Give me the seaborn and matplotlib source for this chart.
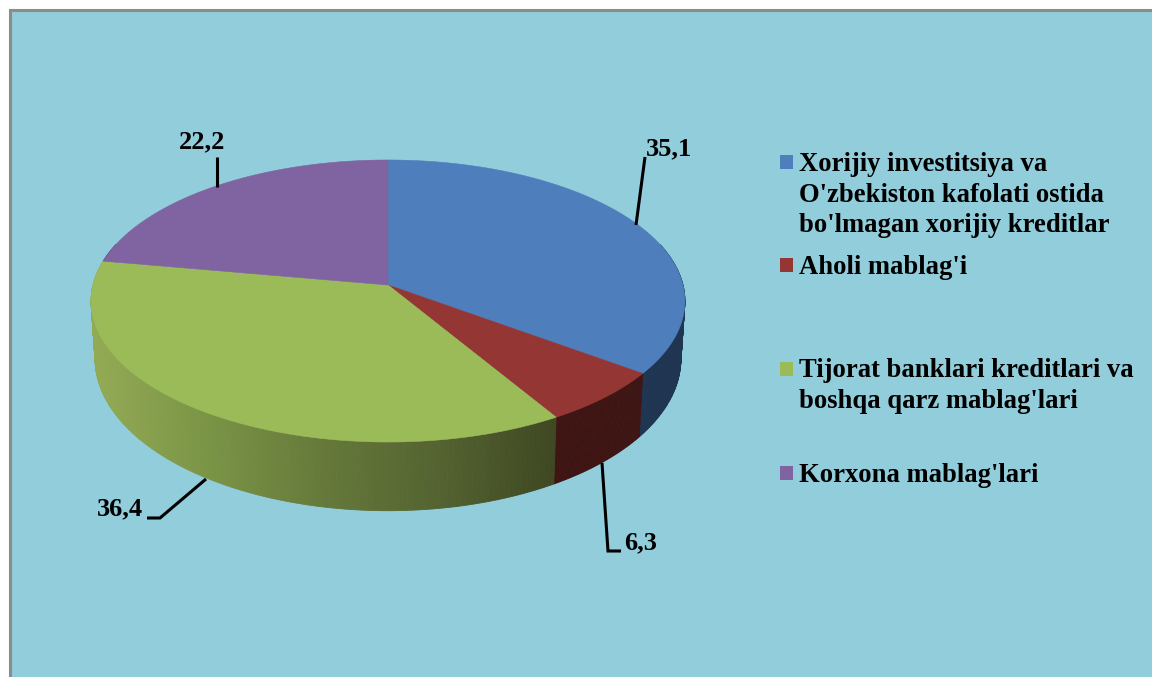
import numpy as np
import matplotlib
matplotlib.use('Agg')
import matplotlib.pyplot as plt
from matplotlib.colors import LinearSegmentedColormap
from matplotlib.patches import Rectangle
import seaborn as sns

# share of each source, clockwise from 12 o'clock
values = [35.1, 6.3, 36.4, 22.2]
value_labels = ['35,1', '6,3', '36,4', '22,2']
legend_lines = [
    ["Xorijiy investitsiya va", "O'zbekiston kafolati ostida", "bo'lmagan xorijiy kreditlar"],
    ["Aholi mablag'i"],
    ["Tijorat banklari kreditlari va", "boshqa qarz mablag'lari"],
    ["Korxona mablag'lari"],
]
top_colors = ['#4E7EBB', '#943634', '#9BBB59', '#8063A1']
side_colors = ['#1F3552', '#3E1513', None, '#4C3A60']

# layout, in image pixels
CX, K = 388, 0.1135
TOP = dict(a=295, b=139.2, y0=285)
BOTTOM = dict(a=291, b=150, y0=341.5)
label_pos = [(669, 149), (641, 543), (120, 509), (202, 142)]
leaders = [
    [(645, 157), (636, 225)],
    [(602, 463), (608, 551), (621, 551)],
    [(147, 518), (160, 518), (206, 479)],
    [(216.5, 157), (216.5, 187)],
]
legend_swatch_y = [155, 258, 362, 466]
legend_baselines = [[171, 202, 232], [274], [377, 408], [482]]

sns.set_theme(style='white')
plt.rcParams['font.family'] = ['Liberation Serif', 'DejaVu Serif']
palette = sns.color_palette(top_colors)
green_side = LinearSegmentedColormap.from_list(
    'green_side', ['#93AA55', '#7A9445', '#66793A', '#546330', '#3F4822'])


def project(t, disc, r=1.0):
    # perspective view of a flat disc, t in degrees clockwise from the top
    u = r * np.sin(np.radians(t))
    v = r * np.cos(np.radians(t))
    w = 1 + K * v
    return CX + disc['a'] * u / w, disc['y0'] - disc['b'] * v / w


fig = plt.figure(figsize=(11.52, 6.77), dpi=100, facecolor='white')
ax = fig.add_axes([0, 0, 1, 1])
ax.set_xlim(0, 1152)
ax.set_ylim(677, 0)
ax.axis('off')

ax.add_patch(Rectangle((9.5, 10), 1150, 700, facecolor='#92CDDC', edgecolor='#8C8C8C', lw=2.2))

edges = np.concatenate([[0], np.cumsum(values)]) / np.sum(values) * 360

# side wall, back to front; the far part is hidden by the top face anyway
steps = []
for i in range(len(values)):
    grid = np.arange(edges[i], edges[i + 1], 0.5)
    grid = np.append(grid, edges[i + 1])
    for t0, t1 in zip(grid[:-1], grid[1:]):
        c = np.cos(np.radians((t0 + t1) / 2))
        if c < 0.3:
            steps.append((c, i, t0, t1))
for _, i, t0, t1 in sorted(steps, key=lambda s: -s[0]):
    xt0, yt0 = project(t0, TOP)
    xt1, yt1 = project(t1, TOP)
    xb0, yb0 = project(t0, BOTTOM)
    xb1, yb1 = project(t1, BOTTOM)
    if side_colors[i] is None:
        color = green_side(np.clip((xt0 - 95) / (555 - 95), 0, 1))
    else:
        color = side_colors[i]
    ax.fill([xt0, xt1, xb1, xb0], [yt0, yt1, yb1, yb0], color=color, lw=0.6, zorder=2)

# top face
for i in range(len(values)):
    t = np.linspace(edges[i], edges[i + 1], 200)
    x, y = project(t, TOP)
    ax.fill(np.r_[CX, x], np.r_[TOP['y0'], y], color=palette[i], lw=0.4, zorder=3)

for line in leaders:
    ax.plot(*zip(*line), color='black', lw=2.2, solid_capstyle='butt', solid_joinstyle='miter', zorder=4)

for label, (x, y) in zip(value_labels, label_pos):
    ax.text(x, y, label, fontsize=19, fontweight='bold', color='black',
            ha='center', va='center', zorder=5)

for i, lines in enumerate(legend_lines):
    ax.add_patch(Rectangle((780, legend_swatch_y[i]), 13, 14, facecolor=palette[i], edgecolor='none', zorder=3))
    for text, base in zip(lines, legend_baselines[i]):
        ax.text(799, base, text, fontsize=19.2, fontweight='bold', color='black',
                ha='left', va='baseline', zorder=5)

fig.savefig('out.png', dpi=100, facecolor='white')
